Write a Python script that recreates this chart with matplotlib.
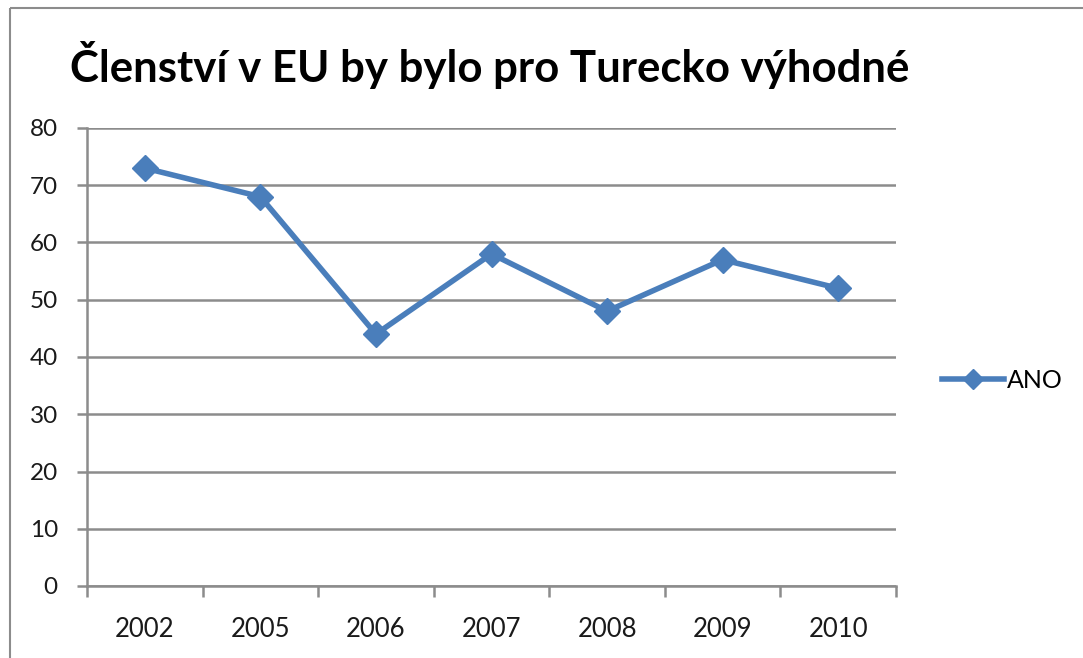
import matplotlib
matplotlib.use("Agg")
import matplotlib.pyplot as plt
from matplotlib.patches import Rectangle
from matplotlib.lines import Line2D

years = ["2002", "2005", "2006", "2007", "2008", "2009", "2010"]
ano = [73, 68, 44, 58, 48, 57, 52]
yticks = [0, 10, 20, 30, 40, 50, 60, 70, 80]

W, H = 1083, 658
fig = plt.figure(figsize=(W/100, H/100), dpi=100)
plt.rcParams['font.family'] = ['Lato', 'DejaVu Sans']

# outer chart border
fig.patches.append(Rectangle((10/W, 1 - 8/H), 1.2, -1.2, transform=fig.transFigure,
                             fill=False, edgecolor='#8c8c8c', linewidth=1.5))

ax = fig.add_axes([87/W, 1 - 586/H, (896-87)/W, (586-128)/H])
x = list(range(len(years)))
ax.plot(x, ano, color='#4a7ebb', linewidth=4, marker='D', markersize=13,
        markerfacecolor='#4a7ebb', markeredgecolor='#4a7ebb', clip_on=False)

ax.set_xlim(-0.5, len(years) - 0.5)
ax.set_ylim(0, 80)
ax.set_yticks(yticks)
ax.set_yticklabels([str(v) for v in yticks], fontsize=17.5, color='#1a1a1a')
ax.set_xticks(x)
ax.set_xticklabels(years, fontsize=18.5, color='#1a1a1a')
ax.tick_params(axis='x', length=0, pad=22)
ax.tick_params(axis='y', length=7, width=1.8, color='#8c8c8c', pad=14)
# category boundary ticks
ax.set_xticks([i - 0.5 for i in range(len(years) + 1)], minor=True)
ax.tick_params(axis='x', which='minor', length=8, width=1.8, color='#8c8c8c')

ax.grid(axis='y', color='#8c8c8c', linewidth=1.8)
ax.set_axisbelow(True)
for s in ['top', 'right']:
    ax.spines[s].set_visible(False)
ax.spines['left'].set_color('#8c8c8c')
ax.spines['left'].set_linewidth(1.8)
ax.spines['bottom'].set_color('#8c8c8c')
ax.spines['bottom'].set_linewidth(1.8)

fig.text(490/W, 1 - 65/H, "Členství v EU by bylo pro Turecko výhodné",
         ha='center', va='center', fontsize=31.5, fontweight='bold', color='#000000')

handle = Line2D([], [], color='#4a7ebb', linewidth=4, marker='D', markersize=10)
fig.legend([handle], ["ANO"], loc='center left', bbox_to_anchor=(919/W, 1 - 380/H),
           frameon=False, fontsize=18, handlelength=2.5, handletextpad=0.1)

fig.savefig("out.png", dpi=100)
